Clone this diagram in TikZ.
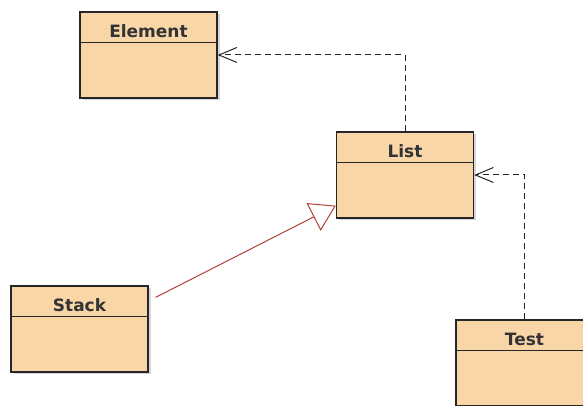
\documentclass[tikz,border=0pt]{standalone}
\usepackage{xcolor}
\usepackage{fontspec}
\setmainfont{DejaVu Sans}
\usepackage{tikz}
\usetikzlibrary{positioning,arrows.meta,shadows}

\definecolor{classfill}{RGB}{249,214,168}
\definecolor{genred}{RGB}{178,64,56}

\tikzset{
	umlclass/.style={draw=black!85,line width=1.3pt,fill=classfill,minimum width=137pt,minimum height=86pt,
		drop shadow={shadow xshift=2.5pt,shadow yshift=-2.5pt,fill=black!40,opacity=.4}},
	classname/.style={anchor=base,font=\fontsize{17}{20}\bfseries,text=black!80},
	dep/.style={draw=black!85,line width=1pt,dash pattern=on 6pt off 4pt,-{Straight Barb[length=18pt,width=15pt,line width=1pt]}},
	gen/.style={draw=genred,line width=1pt,-{Triangle[open,length=25pt,width=31pt,line width=1pt]}}
}

\begin{document}
\begin{tikzpicture}[x=1pt,y=1pt]
			
			\useasboundingbox (0,0) rectangle (583,406);
			\clip (0,0) rectangle (583,406);
			
			\node[umlclass] (element) at (148.5,351) {};
			\node[umlclass] (list) at (405,231) {};
			\node[umlclass] (stack) at (79.5,77) {};
			\node[umlclass] (test) at (524.5,43) {};
			
			\foreach \c/\t in {element/Element,list/List,stack/Stack,test/Test}{
				\node[classname] (\c-name) at ([yshift=-26pt]\c.north) {\t};
				\draw[black!85,line width=1.3pt] ([yshift=-31pt]\c.north west) -- ([yshift=-31pt]\c.north east);
			}
			
			\coordinate (stack-out) at ([shift={(7pt,-12pt)}]stack.north east);
			\coordinate (list-in) at ([yshift=13pt]list.south west);
			
			\draw[dep] (list.north) |- (element.east);
			\draw[dep] (test.north) |- (list.east);
			\draw[gen] (stack-out) -- (list-in);
			
		\end{tikzpicture}
\end{document}
